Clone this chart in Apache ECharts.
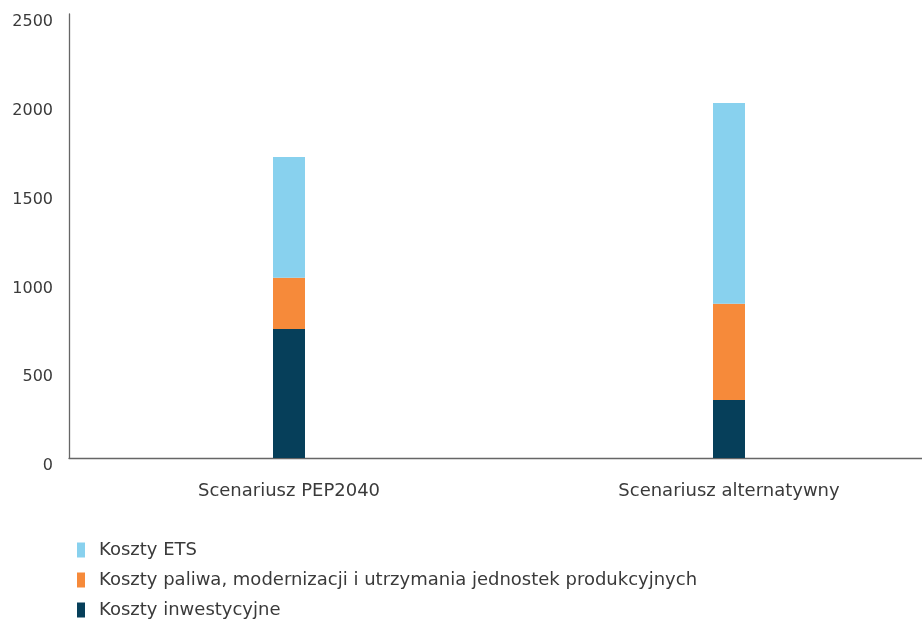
<!DOCTYPE html>
<html>
<head>
<meta charset="utf-8">
<script src="https://cdn.jsdelivr.net/npm/echarts@6/dist/echarts.min.js"></script>
<style>
  html, body { margin: 0; padding: 0; background: #fff; }
  #chart { width: 922px; height: 619px; }
</style>
</head>
<body>
<div id="chart"></div>
<script>
// Scenarios compared on the x axis
const categories = ['Scenariusz PEP2040', 'Scenariusz alternatywny'];

// Cost components per scenario (stacked bottom to top)
const kosztyInwestycyjne = [726, 327];
const kosztyPaliwa = [289, 542];
const kosztyETS = [680, 1130];

const seriesNames = [
  'Koszty inwestycyjne',
  'Koszty paliwa, modernizacji i utrzymania jednostek produkcyjnych',
  'Koszty ETS'
];

const yTicks = { min: 0, max: 2500, interval: 500 };

const colors = ['#063F5A', '#F68A3A', '#88D1EE'];
const textColor = '#3a3a3a';
const fontFamily = '"DejaVu Sans", sans-serif';

const chart = echarts.init(document.getElementById('chart'), null, { renderer: 'canvas' });

function barSeries(name, data, color) {
  return {
    name: name,
    type: 'bar',
    stack: 'koszty',
    barWidth: 32,
    data: data,
    itemStyle: { color: color },
    emphasis: { disabled: true }
  };
}

chart.setOption({
  animation: false,
  textStyle: { fontFamily: fontFamily },
  // the plot area runs past the right edge of the canvas
  grid: { left: 69, top: 14, width: 880, height: 444, outerBoundsMode: 'none' },
  xAxis: {
    type: 'category',
    data: categories,
    axisLine: { show: true, lineStyle: { color: '#666', width: 1.3 } },
    axisTick: { show: false },
    axisLabel: { color: textColor, fontSize: 18, margin: 24, fontFamily: fontFamily }
  },
  yAxis: {
    type: 'value',
    min: yTicks.min,
    max: yTicks.max,
    interval: yTicks.interval,
    axisLine: { show: true, lineStyle: { color: '#666', width: 1.3 } },
    axisTick: { show: false },
    splitLine: { show: false },
    axisLabel: {
      color: textColor, fontSize: 16, margin: 16, verticalAlign: 'top', fontFamily: fontFamily,
      formatter: (v) => String(v)
    }
  },
  // single column; the last row runs off the bottom edge
  legend: {
    orient: 'vertical',
    left: 77,
    top: 541,
    height: 200,
    padding: 0,
    itemWidth: 8,
    itemHeight: 15,
    itemGap: 12,
    icon: 'rect',
    data: [seriesNames[2], seriesNames[1], seriesNames[0]],
    textStyle: {
      color: textColor, fontSize: 18, fontFamily: fontFamily,
      padding: [0, 0, 0, 9]
    }
  },
  series: [
    barSeries(seriesNames[0], kosztyInwestycyjne, colors[0]),
    barSeries(seriesNames[1], kosztyPaliwa, colors[1]),
    barSeries(seriesNames[2], kosztyETS, colors[2])
  ]
});
</script>
</body>
</html>
